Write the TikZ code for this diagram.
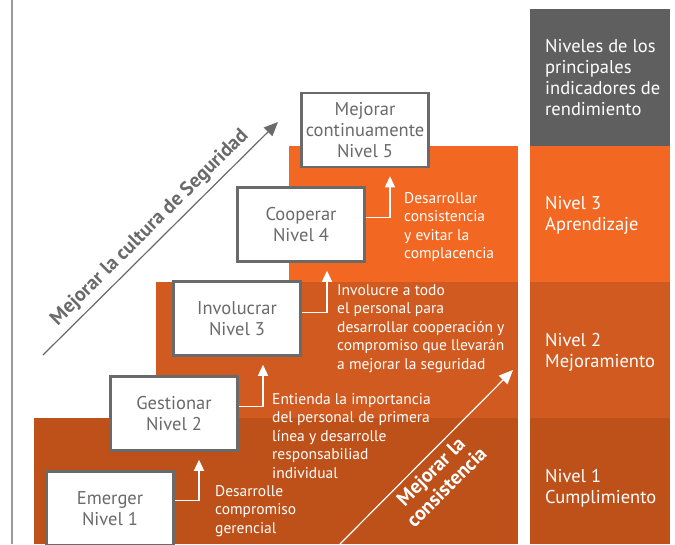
\documentclass[tikz,border=0pt]{standalone}
\usepackage{fontspec}
\setmainfont{PT Sans}
\usetikzlibrary{shapes,arrows.meta,positioning}
\definecolor{bandthree}{HTML}{F26722}
\definecolor{bandtwo}{HTML}{D15A20}
\definecolor{bandone}{HTML}{BE5019}
\definecolor{headgray}{HTML}{5E5F5E}
\definecolor{boxgray}{HTML}{6A6A6A}
\definecolor{rulegray}{HTML}{9A9A9A}

\begin{document}
\begin{tikzpicture}[x=1pt, y=-1pt,
    level/.style={draw=boxgray, line width=2.5pt, fill=white, rectangle, minimum width=127pt, minimum height=74pt, inner sep=0pt, text=boxgray, align=center, font=\fontsize{18.5}{21}\selectfont},
    note/.style={text=white, align=left, anchor=north west, inner sep=0pt, font=\fontsize{15.5}{18.5}\selectfont},
    kpi/.style={text=white, align=left, anchor=north west, inner sep=0pt, font=\fontsize{18.5}{21}\selectfont},
    link/.style={white, line width=1.3pt, -{Triangle[width=10pt,length=11pt]}}]
       \useasboundingbox (0,0) rectangle (675,544);
       %Background bands
       \draw[rulegray, line width=1.2pt] (12,0) -- (12,544);
       \fill[bandthree] (289,146) rectangle (518,282);
       \fill[bandtwo] (156,282) rectangle (518,418);
       \fill[bandone] (34,418) rectangle (518,544);
       \fill[headgray] (530,9) rectangle (670,146);
       \fill[bandthree] (530,146) rectangle (670,282);
       \fill[bandtwo] (530,282) rectangle (670,418);
       \fill[bandone] (530,418) rectangle (670,544);

       %Defining nodes
       \node[level] (Emerger) at (110,508.5) {Emerger\\Nivel 1};
       \node[level] (Gestionar) at (174,413.5) {Gestionar\\Nivel 2};
       \node[level] (Involucrar) at (237,318.5) {Involucrar\\Nivel 3};
       \node[level] (Cooperar) at (301,224.5) {Cooperar\\Nivel 4};
       \node[level] (Mejorar) at (365,130) {Mejorar\\continuamente\\Nivel 5};

       \node[note] (NotaUno) at (215,485) {Desarrolle\\compromiso\\gerencial};
       \node[note] (NotaDos) at (272,393) {Entienda la importancia\\del personal de primera\\línea y desarrolle\\responsabiliad\\individual};
       \node[note] (NotaTres) at (337,284) {Involucre a todo\\el personal para\\desarrollar cooperación y\\compromiso que llevarán\\a mejorar la seguridad};
       \node[note] (NotaCuatro) at (404,192) {Desarrollar\\consistencia\\y evitar la\\complacencia};

       \node[kpi] (Indicadores) at (545,39) {Niveles de los\\principales\\indicadores de\\rendimiento};
       \node[kpi] (Aprendizaje) at (545,196) {Nivel 3\\Aprendizaje};
       \node[kpi] (Mejoramiento) at (545,333) {Nivel 2\\Mejoramiento};
       \node[kpi] (Cumplimiento) at (545,469) {Nivel 1\\Cumplimiento};

       \coordinate (CulturaIni) at (43,355);
       \coordinate (CulturaFin) at (278,122);
       \coordinate (ConsisIni) at (340,544);
       \coordinate (ConsisFin) at (513,370);

       %Drawing Diagram
       \draw[boxgray, line width=1.2pt, -{Triangle[width=12pt,length=14pt]}] (CulturaIni) -- node[sloped, above=2pt, pos=0.5, text=boxgray, font=\bfseries\fontsize{20}{24}\selectfont] {Mejorar la cultura de Seguridad} (CulturaFin);
       \draw[white, line width=1.2pt, -{Triangle[width=12pt,length=14pt]}] (ConsisIni) -- node[sloped, below=2pt, pos=0.47, align=center, text=white, font=\bfseries\fontsize{20}{22}\selectfont] {Mejorar la\\consistencia} (ConsisFin);

       \draw[link] ([yshift=8pt]Emerger.east) -| ([xshift=25pt,yshift=-8pt]Gestionar.south);
       \draw[link] ([yshift=7pt]Gestionar.east) -| ([xshift=26pt,yshift=-8pt]Involucrar.south);
       \draw[link] ([yshift=6pt]Involucrar.east) -| ([xshift=26pt,yshift=-8pt]Cooperar.south);
       \draw[link] ([yshift=7pt]Cooperar.east) -| ([xshift=25pt,yshift=-8pt]Mejorar.south);
    \end{tikzpicture}
\end{document}
